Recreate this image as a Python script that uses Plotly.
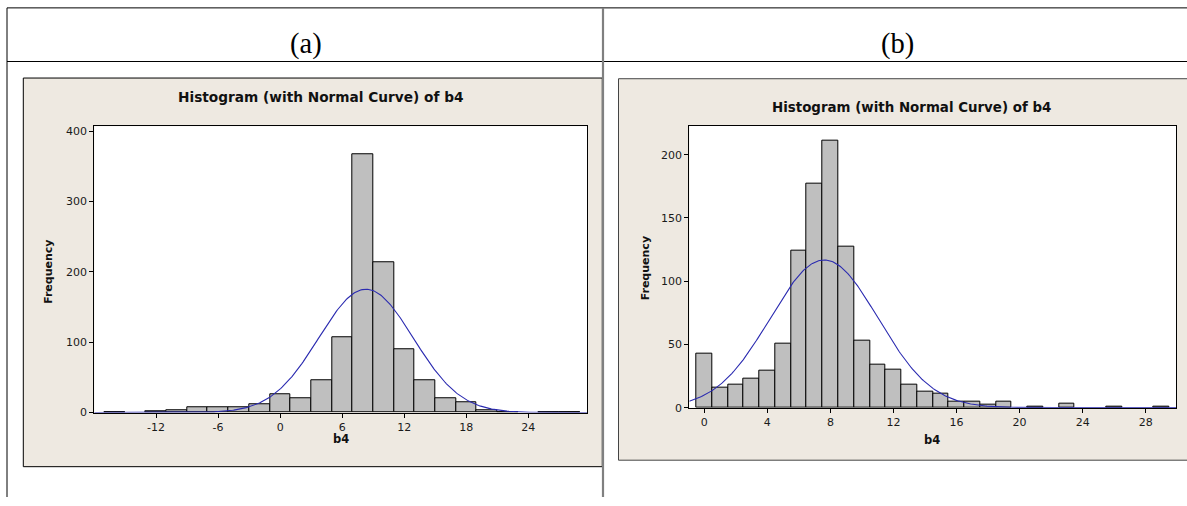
import numpy as np
import plotly.graph_objects as go

W, H = 1187, 497  # figure height; page photographed at 1187x506

# ---------------- data ----------------
# (a) histogram of b4, bin width 2
bins_a = [-16, -12, -10, -8, -6, -4, -2, 0, 2, 4, 6, 8, 10, 12, 14, 16, 18, 20, 22, 26, 28]
counts_a = [1, 2, 3, 8, 7, 8, 12, 26, 20, 46, 107, 367, 214, 90, 46, 21, 14, 4, 1, 1, 1]
width_a = 2
mean_a, sd_a, n_a = 8.3, 4.56, 1002

# (b) histogram of b4, bin width 1
bins_b = [0, 1, 2, 3, 4, 5, 6, 7, 8, 9, 10, 11, 12, 13, 14, 15, 16, 17, 18, 19, 21, 23, 26, 29]
counts_b = [43, 16, 18, 23, 29, 51, 124, 177, 211, 127, 53, 34, 30, 18, 13, 11, 5, 5, 2, 5, 1, 3, 1, 1]
width_b = 1
mean_b, sd_b, n_b = 7.6, 3.42, 1001

xticks_a = [-12, -6, 0, 6, 12, 18, 24]
yticks_a = [0, 100, 200, 300, 400]
xticks_b = [0, 4, 8, 12, 16, 20, 24, 28]
yticks_b = [0, 50, 100, 150, 200]

title_text = "Histogram (with Normal Curve) of b4"
panel_labels = ["(a)", "(b)"]
x_title = "b4"
y_title = "Frequency"

# ---------------- styling ----------------
BEIGE = "#EEE9E1"
BAR = "#BFBFBF"
CURVE = "#2A2AB0"
FONT = "DejaVu Sans"


def fx(px):
    return px / W


def fy(py):
    return 1 - py / H


xr_a = [-17.97, 29.7]
yr_a = [0, 407]
xr_b = [-0.95, 29.92]
yr_b = [0, 223]


def normal_curve(mu, sd, n, w, xr):
    xs = np.linspace(xr[0], xr[1], 400)
    ys = n * w / (sd * np.sqrt(2 * np.pi)) * np.exp(-0.5 * ((xs - mu) / sd) ** 2)
    return xs, ys


fig = go.Figure()

fig.add_trace(go.Bar(x=bins_a, y=counts_a, width=width_a, marker=dict(color=BAR, line=dict(color="black", width=1)),
                     xaxis="x", yaxis="y", showlegend=False))
cx, cy = normal_curve(mean_a, sd_a, n_a, width_a, xr_a)
fig.add_trace(go.Scatter(x=cx, y=cy, mode="lines", line=dict(color=CURVE, width=1.1),
                         xaxis="x", yaxis="y", showlegend=False, cliponaxis=True))

fig.add_trace(go.Bar(x=bins_b, y=counts_b, width=width_b, marker=dict(color=BAR, line=dict(color="black", width=1)),
                     xaxis="x2", yaxis="y2", showlegend=False))
cx, cy = normal_curve(mean_b, sd_b, n_b, width_b, xr_b)
fig.add_trace(go.Scatter(x=cx, y=cy, mode="lines", line=dict(color=CURVE, width=1.1),
                         xaxis="x2", yaxis="y2", showlegend=False, cliponaxis=True))

axis_common = dict(showline=True, linecolor="black", linewidth=1, mirror=True, showgrid=False, zeroline=False,
                   ticks="outside", ticklen=4, tickcolor="black", tickwidth=1,
                   tickfont=dict(family=FONT, size=11, color="#1a1a1a"), fixedrange=True)

# plot areas (pixels)
A = dict(x0=94.3, x1=587.3, y0=127.3, y1=418.3)
B = dict(x0=689.3, x1=1176.0, y0=126.7, y1=413.3)

fig.update_layout(
    width=W, height=H,
    margin=dict(l=0, r=0, t=0, b=0),
    paper_bgcolor="white",
    plot_bgcolor="rgba(0,0,0,0)",
    bargap=0,
    xaxis=dict(domain=[fx(A["x0"]), fx(A["x1"])], range=xr_a, tickvals=xticks_a,
               ticktext=[str(v) for v in xticks_a], anchor="y", **axis_common),
    yaxis=dict(domain=[fy(A["y1"]), fy(A["y0"])], range=yr_a, tickvals=yticks_a, anchor="x", **axis_common),
    xaxis2=dict(domain=[fx(B["x0"]), fx(B["x1"])], range=xr_b, tickvals=xticks_b,
                ticktext=[str(v) for v in xticks_b], anchor="y2", **axis_common),
    yaxis2=dict(domain=[fy(B["y1"]), fy(B["y0"])], range=yr_b, tickvals=yticks_b, anchor="x2", **axis_common),
)

shapes = []


def rect(x0, y0, x1, y1, fill, line_color=None, lw=1):
    return dict(type="rect", xref="paper", yref="paper", x0=fx(x0), x1=fx(x1), y0=fy(y1), y1=fy(y0),
                fillcolor=fill, line=dict(color=line_color or "rgba(0,0,0,0)", width=lw if line_color else 0),
                layer="below")


def line(x0, y0, x1, y1, color="black", lw=1):
    return dict(type="line", xref="paper", yref="paper", x0=fx(x0), x1=fx(x1), y0=fy(y0), y1=fy(y1),
                line=dict(color=color, width=lw), layer="below")


# chart panels
shapes.append(rect(23.3, 78.3, 602.3, 473.3, BEIGE, "black", 1))
shapes.append(rect(618.5, 79.0, 1195, 466.7, BEIGE, "#444444", 1))
# white plot areas
shapes.append(rect(A["x0"], A["y0"], A["x1"], A["y1"], "white"))
shapes.append(rect(B["x0"], B["y0"], B["x1"], B["y1"], "white"))
# table lines
shapes.append(line(7, 7, 1187, 7))
shapes.append(line(7, 7, 7, 520))
shapes.append(line(7, 61.5, 1187, 61.5))
shapes.append(line(603, 7, 603, 520, color="#808080", lw=2.2))
fig.update_layout(shapes=shapes)

ann = []


def text(x, y, s, size, bold=False, family=FONT, angle=0, color="#111111"):
    ann.append(dict(xref="paper", yref="paper", x=fx(x), y=fy(y), text=f"<b>{s}</b>" if bold else s,
                    showarrow=False, xanchor="center", yanchor="middle", textangle=angle,
                    font=dict(family=family, size=size, color=color)))


text(306, 44, panel_labels[0], 28.5, family="Liberation Serif", color="black")
text(897, 44, panel_labels[1], 28.5, family="Liberation Serif", color="black")
text(320.5, 98, title_text, 13.7, bold=True)
text(911, 108, title_text, 13.4, bold=True)
text(48.3, 275, y_title, 11, bold=True, angle=-90)
text(645, 271.7, y_title, 11, bold=True, angle=-90)
text(341, 445, x_title, 11.5, bold=True)
text(932, 446, x_title, 11.5, bold=True)
fig.update_layout(annotations=ann)

fig.write_html("out.html")
